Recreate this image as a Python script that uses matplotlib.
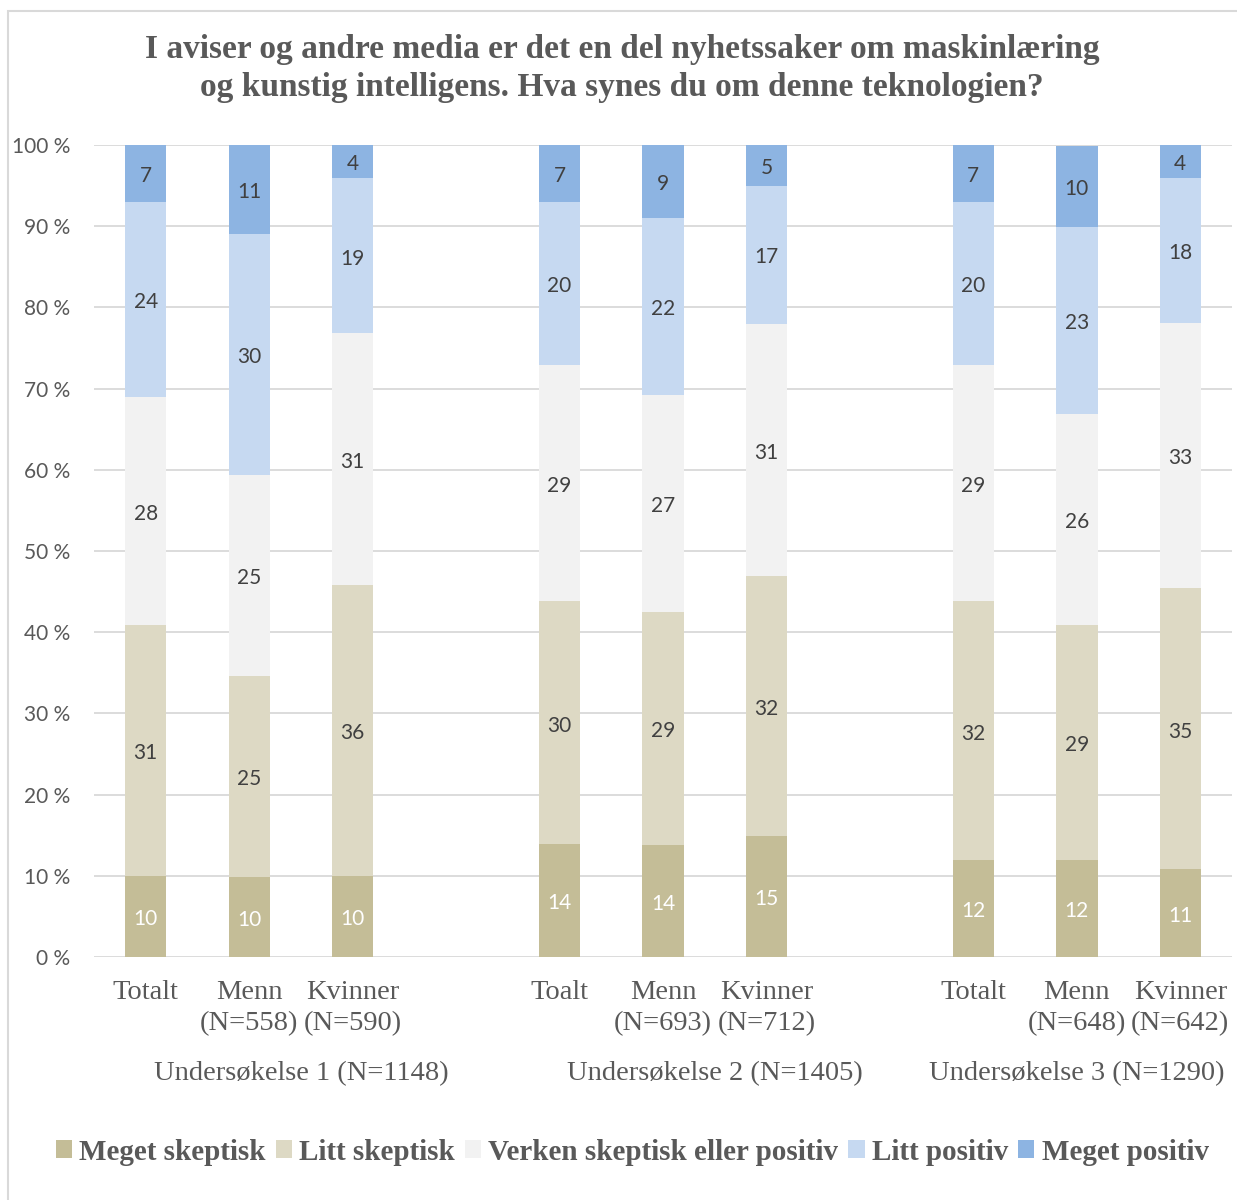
import matplotlib
matplotlib.use("Agg")
import matplotlib.pyplot as plt
from matplotlib.patches import Rectangle
import numpy as np

title = ("I aviser og andre media er det en del nyhetssaker om maskinlæring\n"
         "og kunstig intelligens. Hva synes du om denne teknologien?")

categories = ["Totalt", "Menn\n(N=558)", "Kvinner\n(N=590)", "",
              "Toalt", "Menn\n(N=693)", "Kvinner\n(N=712)", "",
              "Totalt", "Menn\n(N=648)", "Kvinner\n(N=642)"]
groups = ["Undersøkelse 1 (N=1148)", "Undersøkelse 2 (N=1405)", "Undersøkelse 3 (N=1290)"]
group_centers = [1.5, 5.5, 9.0]

series = ["Meget skeptisk", "Litt skeptisk", "Verken skeptisk eller positiv",
          "Litt positiv", "Meget positiv"]
nan = np.nan
meget_skeptisk = [10.0, 9.9, 10.0, nan, 13.9, 13.8, 14.9, nan, 11.9, 11.9, 10.8]
litt_skeptisk = [30.9, 24.7, 35.8, nan, 29.9, 28.7, 32.0, nan, 31.9, 29.0, 34.6]
verken = [28.1, 24.8, 31.0, nan, 29.1, 26.7, 31.1, nan, 29.1, 26.0, 32.7]
litt_positiv = [24.0, 29.6, 19.1, nan, 20.1, 21.8, 17.0, nan, 20.1, 23.0, 17.8]
meget_positiv = [7.0, 11.0, 4.1, nan, 7.0, 9.0, 5.0, nan, 7.0, 10.0, 4.1]

colors = ["#C4BD97", "#DDD9C4", "#F2F2F2", "#C6D9F1", "#8DB4E2"]
label_colors = ["white", "#404040", "#404040", "#404040", "#404040"]

SERIF = ["Liberation Serif", "DejaVu Serif"]
SANS = ["Lato", "DejaVu Sans"]
TXT = "#595959"

fig = plt.figure(figsize=(12.37, 12.0), dpi=100)
ax = fig.add_axes([0.076, 0.2025, 0.92, 0.6767])

x = np.arange(len(categories))
data = [meget_skeptisk, litt_skeptisk, verken, litt_positiv, meget_positiv]
bottom = np.zeros(len(categories))
handles = []
for vals, col, lcol, name in zip(data, colors, label_colors, series):
    v = np.array(vals, dtype=float)
    vz = np.nan_to_num(v)
    bars = ax.bar(x, vz, width=0.4, bottom=bottom, color=col, label=name, zorder=3)
    handles.append(bars)
    for xi, vi, bi in zip(x, v, bottom):
        if np.isnan(vi):
            continue
        ax.annotate(f"{int(round(vi))}", (xi, bi + vi / 2), xytext=(0, -2),
                    textcoords="offset points", ha="center", va="center",
                    fontsize=15, color=lcol, family=SANS, zorder=4)
    bottom = bottom + vz

ax.set_xlim(-0.5, 10.5)
ax.set_ylim(0, 100)
ax.set_yticks(np.arange(0, 101, 10))
ax.set_yticklabels([f"{t} %" for t in range(0, 101, 10)], family=SANS, fontsize=15, color=TXT)
ax.yaxis.grid(True, color="#D9D9D9", linewidth=1.3, zorder=0)
ax.set_axisbelow(True)
ax.tick_params(axis="y", length=0, pad=17)
ax.tick_params(axis="x", length=0)
ax.set_xticks([])
for s in ax.spines.values():
    s.set_visible(False)

# category labels
for xi, c in zip(x, categories):
    if c:
        ax.text(xi, -2.8, c, ha="center", va="top", fontsize=20.5, family=SERIF,
                color=TXT, linespacing=1.32)
for gc, g in zip(group_centers, groups):
    ax.text(gc, -12.8, g, ha="center", va="top", fontsize=20.5, family=SERIF, color=TXT)

fig.text(0.503, 0.972, title, ha="center", va="top", fontsize=24, fontweight="bold",
         family=SERIF, color=TXT, linespacing=1.3)

leg = fig.legend(handles=handles, labels=series, loc="center", bbox_to_anchor=(0.511, 0.04),
                 ncol=5, frameon=False, handlelength=0.55, handleheight=0.55,
                 handletextpad=0.25, columnspacing=0.35,
                 prop={"family": SERIF, "size": 21, "weight": "bold"})
for t in leg.get_texts():
    t.set_color(TXT)

# chart border (top and left visible)
fig.patches.append(Rectangle((8 / 1237, -0.05), 1.2, 1 - 11 / 1200 + 0.05,
                             transform=fig.transFigure, fill=False,
                             edgecolor="#D9D9D9", linewidth=1.5))

fig.savefig("out.png", dpi=100, facecolor="white")
